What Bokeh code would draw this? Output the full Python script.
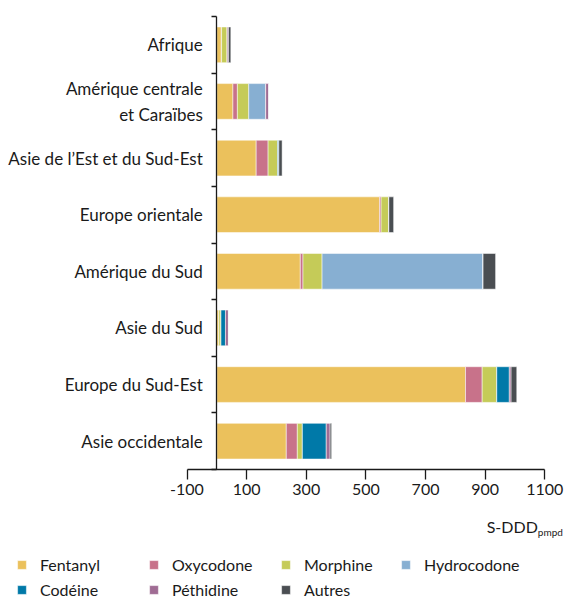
from bokeh.plotting import figure
from bokeh.models import (FixedTicker, Legend, LegendItem, Label, ColumnDataSource,
                          LinearAxis, Range1d)
from bokeh.embed import file_html
from bokeh.resources import INLINE

regions = ["Afrique", "Amérique centrale\net Caraïbes", "Asie de l’Est et du Sud-Est",
           "Europe orientale", "Amérique du Sud", "Asie du Sud", "Europe du Sud-Est",
           "Asie occidentale"]
drugs = ["Fentanyl", "Oxycodone", "Morphine", "Hydrocodone", "Codéine", "Péthidine", "Autres"]
fentanyl = [15, 54, 132, 546, 280, 7, 834, 233]
oxycodone = [1, 15, 40, 5, 9, 0, 56, 37]
morphine = [19, 38, 32, 26, 64, 7, 49, 17]
hydrocodone = [0, 57, 0, 0, 540, 0, 0, 0]
codeine = [0, 0, 4, 0, 0, 15, 42, 80]
pethidine = [4, 10, 0, 0, 0, 10, 6, 13]
autres = [8, 0, 11, 16, 42, 0, 19, 5]
colors = ["#EBC15C", "#C8728A", "#C5CB58", "#87AFD2", "#0079A8", "#A06C94", "#4A4E52"]
x_ticks = [-100, 100, 300, 500, 700, 900, 1100]
x_unit = "S-DDD"
x_unit_sub = "pmpd"

FONT = "Lato"
TXT = "#1a1a1a"
W, H = 565, 599
n = len(regions)
ypos = [n - i - 0.5 for i in range(n)]

# pixel layout of the plotting area inside the canvas
PX_L, PX_R, PX_T, PX_B = 186.5, 544.3, 16.0, 469.0
XMIN, XMAX = x_ticks[0], x_ticks[-1]
sx = (PX_R - PX_L) / (XMAX - XMIN)
sy = (PX_B - PX_T) / n
x_range = Range1d(XMIN - PX_L / sx, XMAX + (W - PX_R) / sx)
y_range = Range1d(-(H - PX_B) / sy, n + PX_T / sy)

data = {"y": ypos}
for d, vals in zip(drugs, [fentanyl, oxycodone, morphine, hydrocodone, codeine, pethidine, autres]):
    data[d] = vals
src = ColumnDataSource(data)

p = figure(width=W, height=H, x_range=x_range, y_range=y_range,
           output_backend="svg", toolbar_location=None,
           x_axis_type=None, y_axis_type=None, min_border=0)
p.outline_line_color = None
p.xgrid.visible = False
p.ygrid.visible = False

renderers = p.hbar_stack(drugs, y="y", height=0.63, color=colors, source=src,
                         line_color="white", line_width=0.5)

xaxis = LinearAxis(ticker=FixedTicker(ticks=x_ticks), fixed_location=0, bounds=(XMIN, XMAX))
xaxis.major_label_overrides = {t: str(t) for t in x_ticks}
xaxis.major_tick_out = 10
xaxis.major_tick_in = 0
xaxis.minor_tick_out = 0
xaxis.minor_tick_in = 0
xaxis.major_label_standoff = 4
xaxis.axis_line_color = TXT
xaxis.axis_line_width = 1.3
xaxis.major_tick_line_color = TXT
xaxis.major_tick_line_width = 1.3
xaxis.major_label_text_font = FONT
xaxis.major_label_text_font_size = "16px"
xaxis.major_label_text_color = TXT
p.add_layout(xaxis, "below")

yaxis = LinearAxis(ticker=FixedTicker(ticks=ypos, minor_ticks=list(range(n + 1))),
                   fixed_location=0, bounds=(0, n))
yaxis.major_label_overrides = {y: r for y, r in zip(ypos, regions)}
yaxis.major_tick_out = 0
yaxis.major_tick_in = 0
yaxis.minor_tick_out = 5
yaxis.minor_tick_in = 0
yaxis.major_label_standoff = 9
yaxis.axis_line_color = TXT
yaxis.axis_line_width = 1.3
yaxis.minor_tick_line_color = TXT
yaxis.minor_tick_line_width = 1.3
yaxis.major_label_text_font = FONT
yaxis.major_label_text_font_size = "17px"
yaxis.major_label_text_color = TXT
p.add_layout(yaxis, "left")

p.add_layout(Label(x=XMAX, y=0, text=x_unit, text_align="right", x_offset=-7, y_offset=-66,
                   text_font=FONT, text_font_size="16px", text_color=TXT))
p.add_layout(Label(x=XMAX, y=0, text=x_unit_sub, text_align="left", x_offset=-7, y_offset=-68,
                   text_font=FONT, text_font_size="10px", text_color=TXT))

# legend in two rows: Fentanyl, Oxycodone, Morphine, Hydrocodone / Codéine, Péthidine, Autres
items = {d: LegendItem(label=d, renderers=[r]) for d, r in zip(drugs, renderers)}
legend_style = dict(glyph_width=11, glyph_height=11, label_standoff=13,
                    spacing=5, padding=0, margin=0, border_line_color=None,
                    background_fill_alpha=0, label_text_font=FONT, label_text_font_size="16px",
                    label_text_color=TXT, label_height=20)
order = ["Fentanyl", "Codéine", "Oxycodone", "Péthidine", "Morphine", "Autres"]
legend1 = Legend(items=[items[d] for d in order], ncols=3, location=(16, 0),
                 label_width=103, **legend_style)
legend2 = Legend(items=[items["Hydrocodone"]], location=(400, 25), **legend_style)
p.add_layout(legend1, "center")
p.add_layout(legend2, "center")

open("out.html", "w").write(file_html(p, INLINE))
